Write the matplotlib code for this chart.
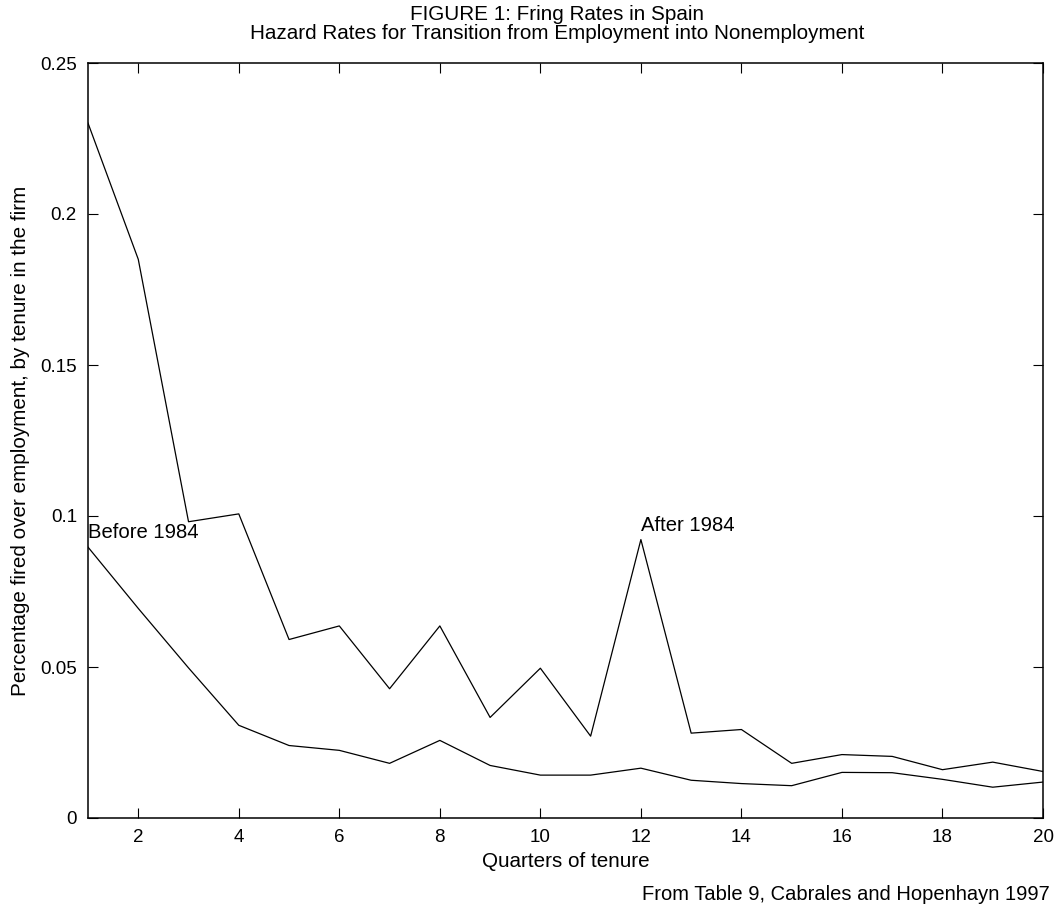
"""Fig. 1: hazard rates out of employment by tenure, Spain before/after 1984."""

import matplotlib

matplotlib.use("Agg")
import matplotlib.pyplot as plt

plt.rcParams["font.family"] = ["Liberation Sans", "DejaVu Sans"]

quarters = list(range(1, 21))
after_1984 = [0.2301, 0.185, 0.0981, 0.1007, 0.0591, 0.0636, 0.0428, 0.0636, 0.0333, 0.0496,
              0.0271, 0.0922, 0.0281, 0.0293, 0.0181, 0.0210, 0.0204, 0.0160, 0.0185, 0.0154]
before_1984 = [0.0897, 0.0694, 0.0497, 0.0307, 0.0240, 0.0224, 0.0181, 0.0257, 0.0174, 0.0142,
               0.0142, 0.0165, 0.0125, 0.0114, 0.0107, 0.0151, 0.0150, 0.0128, 0.0102, 0.0119]
xticks = list(range(2, 21, 2))
yticks = [0, 0.05, 0.1, 0.15, 0.2, 0.25]
ytick_labels = ["0", "0.05", "0.1", "0.15", "0.2", "0.25"]

FS_TICK = 13.5
FS_LABEL = 14.85
FS_TEXT = 14.6

W, H = 1058, 908
fig = plt.figure(figsize=(W / 100, H / 100), dpi=100)
ax = fig.add_axes([88 / W, 1 - 818 / H, (1043 - 88) / W, (818 - 63) / H])

ax.plot(quarters, after_1984, color="black", lw=0.9)
ax.plot(quarters, before_1984, color="black", lw=0.9)

ax.text(1, 0.0926, "Before 1984", fontsize=FS_TEXT, ha="left", va="baseline")
ax.text(12, 0.095, "After 1984", fontsize=FS_TEXT, ha="left", va="baseline")

ax.set_xlim(1, 20)
ax.set_ylim(0, 0.25)
ax.set_xticks(xticks)
ax.set_yticks(yticks)
ax.set_yticklabels(ytick_labels)
ax.tick_params(direction="in", length=7, width=0.8, top=True, right=True,
               labelsize=FS_TICK, pad=8)
for s in ax.spines.values():
    s.set_linewidth(1.1)

ax.set_xlabel("Quarters of tenure", fontsize=FS_LABEL, labelpad=4)
ax.set_ylabel("Percentage fired over employment, by tenure in the firm",
              fontsize=FS_LABEL, labelpad=7)

fig.text(557 / W, 1 - 20 / H, "FIGURE 1: Fring Rates in Spain",
         fontsize=FS_LABEL, ha="center", va="baseline")
fig.text(557 / W, 1 - 39 / H,
         "Hazard Rates for Transition from Employment into Nonemployment",
         fontsize=FS_LABEL, ha="center", va="baseline")
fig.text(1050 / W, 1 - 900 / H, "From Table 9, Cabrales and Hopenhayn 1997",
         fontsize=14.5, ha="right", va="baseline")

fig.savefig("out.png", dpi=100)
